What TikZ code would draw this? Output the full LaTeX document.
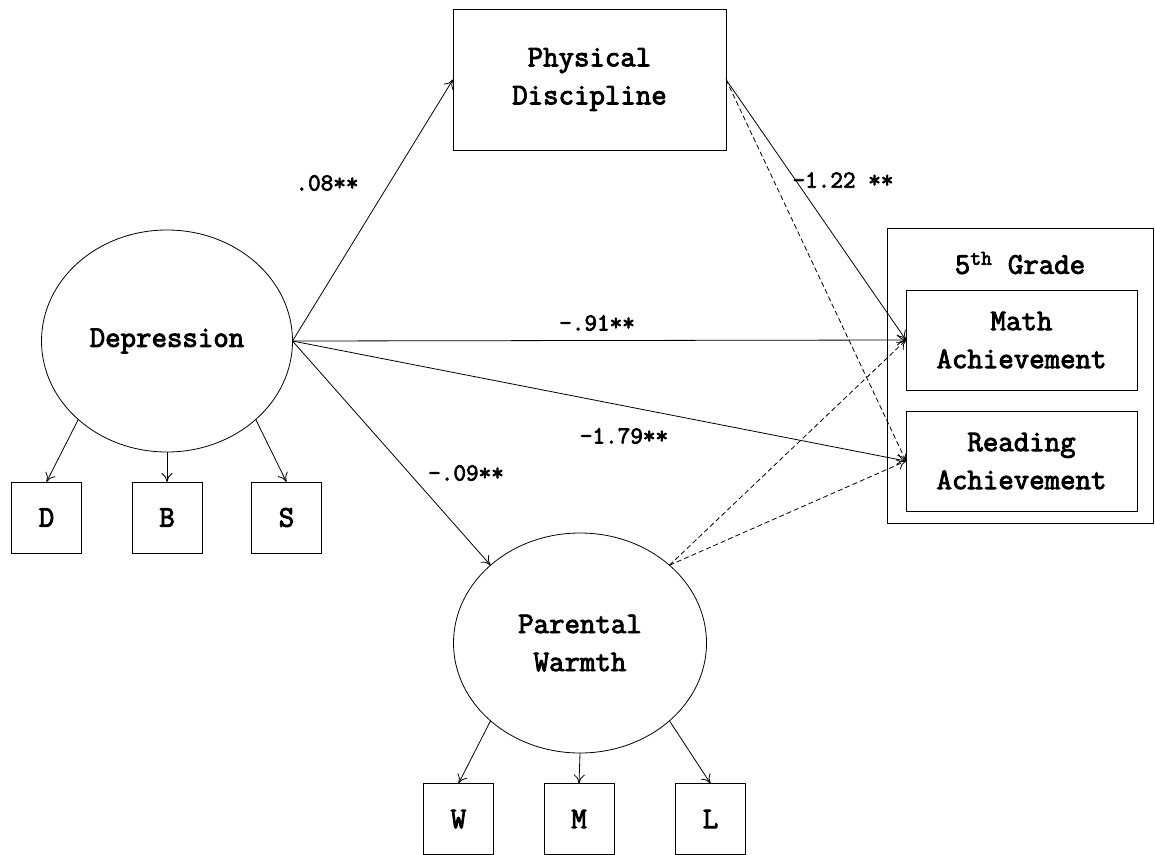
\documentclass[tikz,border=0pt]{standalone}
\usepackage{fontspec}
\newfontfamily\diagfont{Latin Modern Mono}[FakeBold=3]
\usetikzlibrary{shapes.geometric,arrows.meta}
\begin{document}
\begin{tikzpicture}[x=1pt,y=-1pt,
  every node/.style={font=\fontsize{30}{38}\selectfont\diagfont, align=center, inner sep=0pt, outer sep=0pt},
  latent/.style={draw, ellipse, line width=0.8pt, minimum width=251pt, minimum height=222pt},
  obsbox/.style={draw, rectangle, line width=0.8pt},
  indbox/.style={obsbox, minimum width=70pt, minimum height=71pt},
  coef/.style={font=\fontsize{24.5}{28}\selectfont\diagfont},
  path/.style={line width=0.8pt, -{To[length=9pt,width=11pt]}},
  dpath/.style={path, dash pattern=on 5pt off 3pt}
]
\useasboundingbox (0,0) rectangle (1155,854);
% latent variables
\node[latent] (dep) at (167,341) {Depression};
\node[latent, minimum width=253pt, minimum height=220pt] (pw) at (580,643) {Parental\\Warmth};
% mediator
\node[obsbox, minimum width=273pt, minimum height=141pt] (pd) at (589.5,79.5) {Physical\\Discipline};
% outcomes
\node[obsbox, minimum width=266pt, minimum height=295pt] (grade) at (1020,375.5) {};
\node (gtitle) at (1020,263) {5\textsuperscript{th} Grade};
\node[obsbox, minimum width=231pt, minimum height=100pt] (math) at (1021.5,340) {Math\\Achievement};
\node[obsbox, minimum width=231pt, minimum height=100pt] (read) at (1021.5,461) {Reading\\Achievement};
% indicators
\node[indbox] (D) at (46.5,517.5) {D};
\node[indbox] (B) at (167,517.5) {B};
\node[indbox] (S) at (286.5,517.5) {S};
\node[indbox] (W) at (458.5,819) {W};
\node[indbox] (M) at (579,819) {M};
\node[indbox] (L) at (710.5,819) {L};
% measurement paths
\draw[path] (dep.south west) -- (D.north);
\draw[path] (dep.south) -- (B.north);
\draw[path] (dep.south east) -- (S.north);
\draw[path] (pw.south west) -- (W.north);
\draw[path] (pw.south) -- (M.north);
\draw[path] (pw.south east) -- (L.north);
% structural paths
\draw[path] (dep.east) -- (pd.west);
\draw[path] (dep.east) -- (math.west);
\draw[path] (dep.east) -- (read.west);
\draw[path] (dep.east) -- (pw.north west);
\draw[path] (pd.east) -- (math.west);
\draw[dpath] (pd.east) -- (read.west);
\draw[dpath] (pw.north east) -- (math.west);
\draw[dpath] (pw.north east) -- (read.west);
% coefficients
\node[coef] (c1) at (327,183) {.08**};
\node[coef] (c2) at (843,180) {-1.22 **};
\node[coef] (c3) at (597,323) {-.91**};
\node[coef] (c4) at (624,436) {-1.79**};
\node[coef] (c5) at (466,473) {-.09**};
\end{tikzpicture}
\end{document}
